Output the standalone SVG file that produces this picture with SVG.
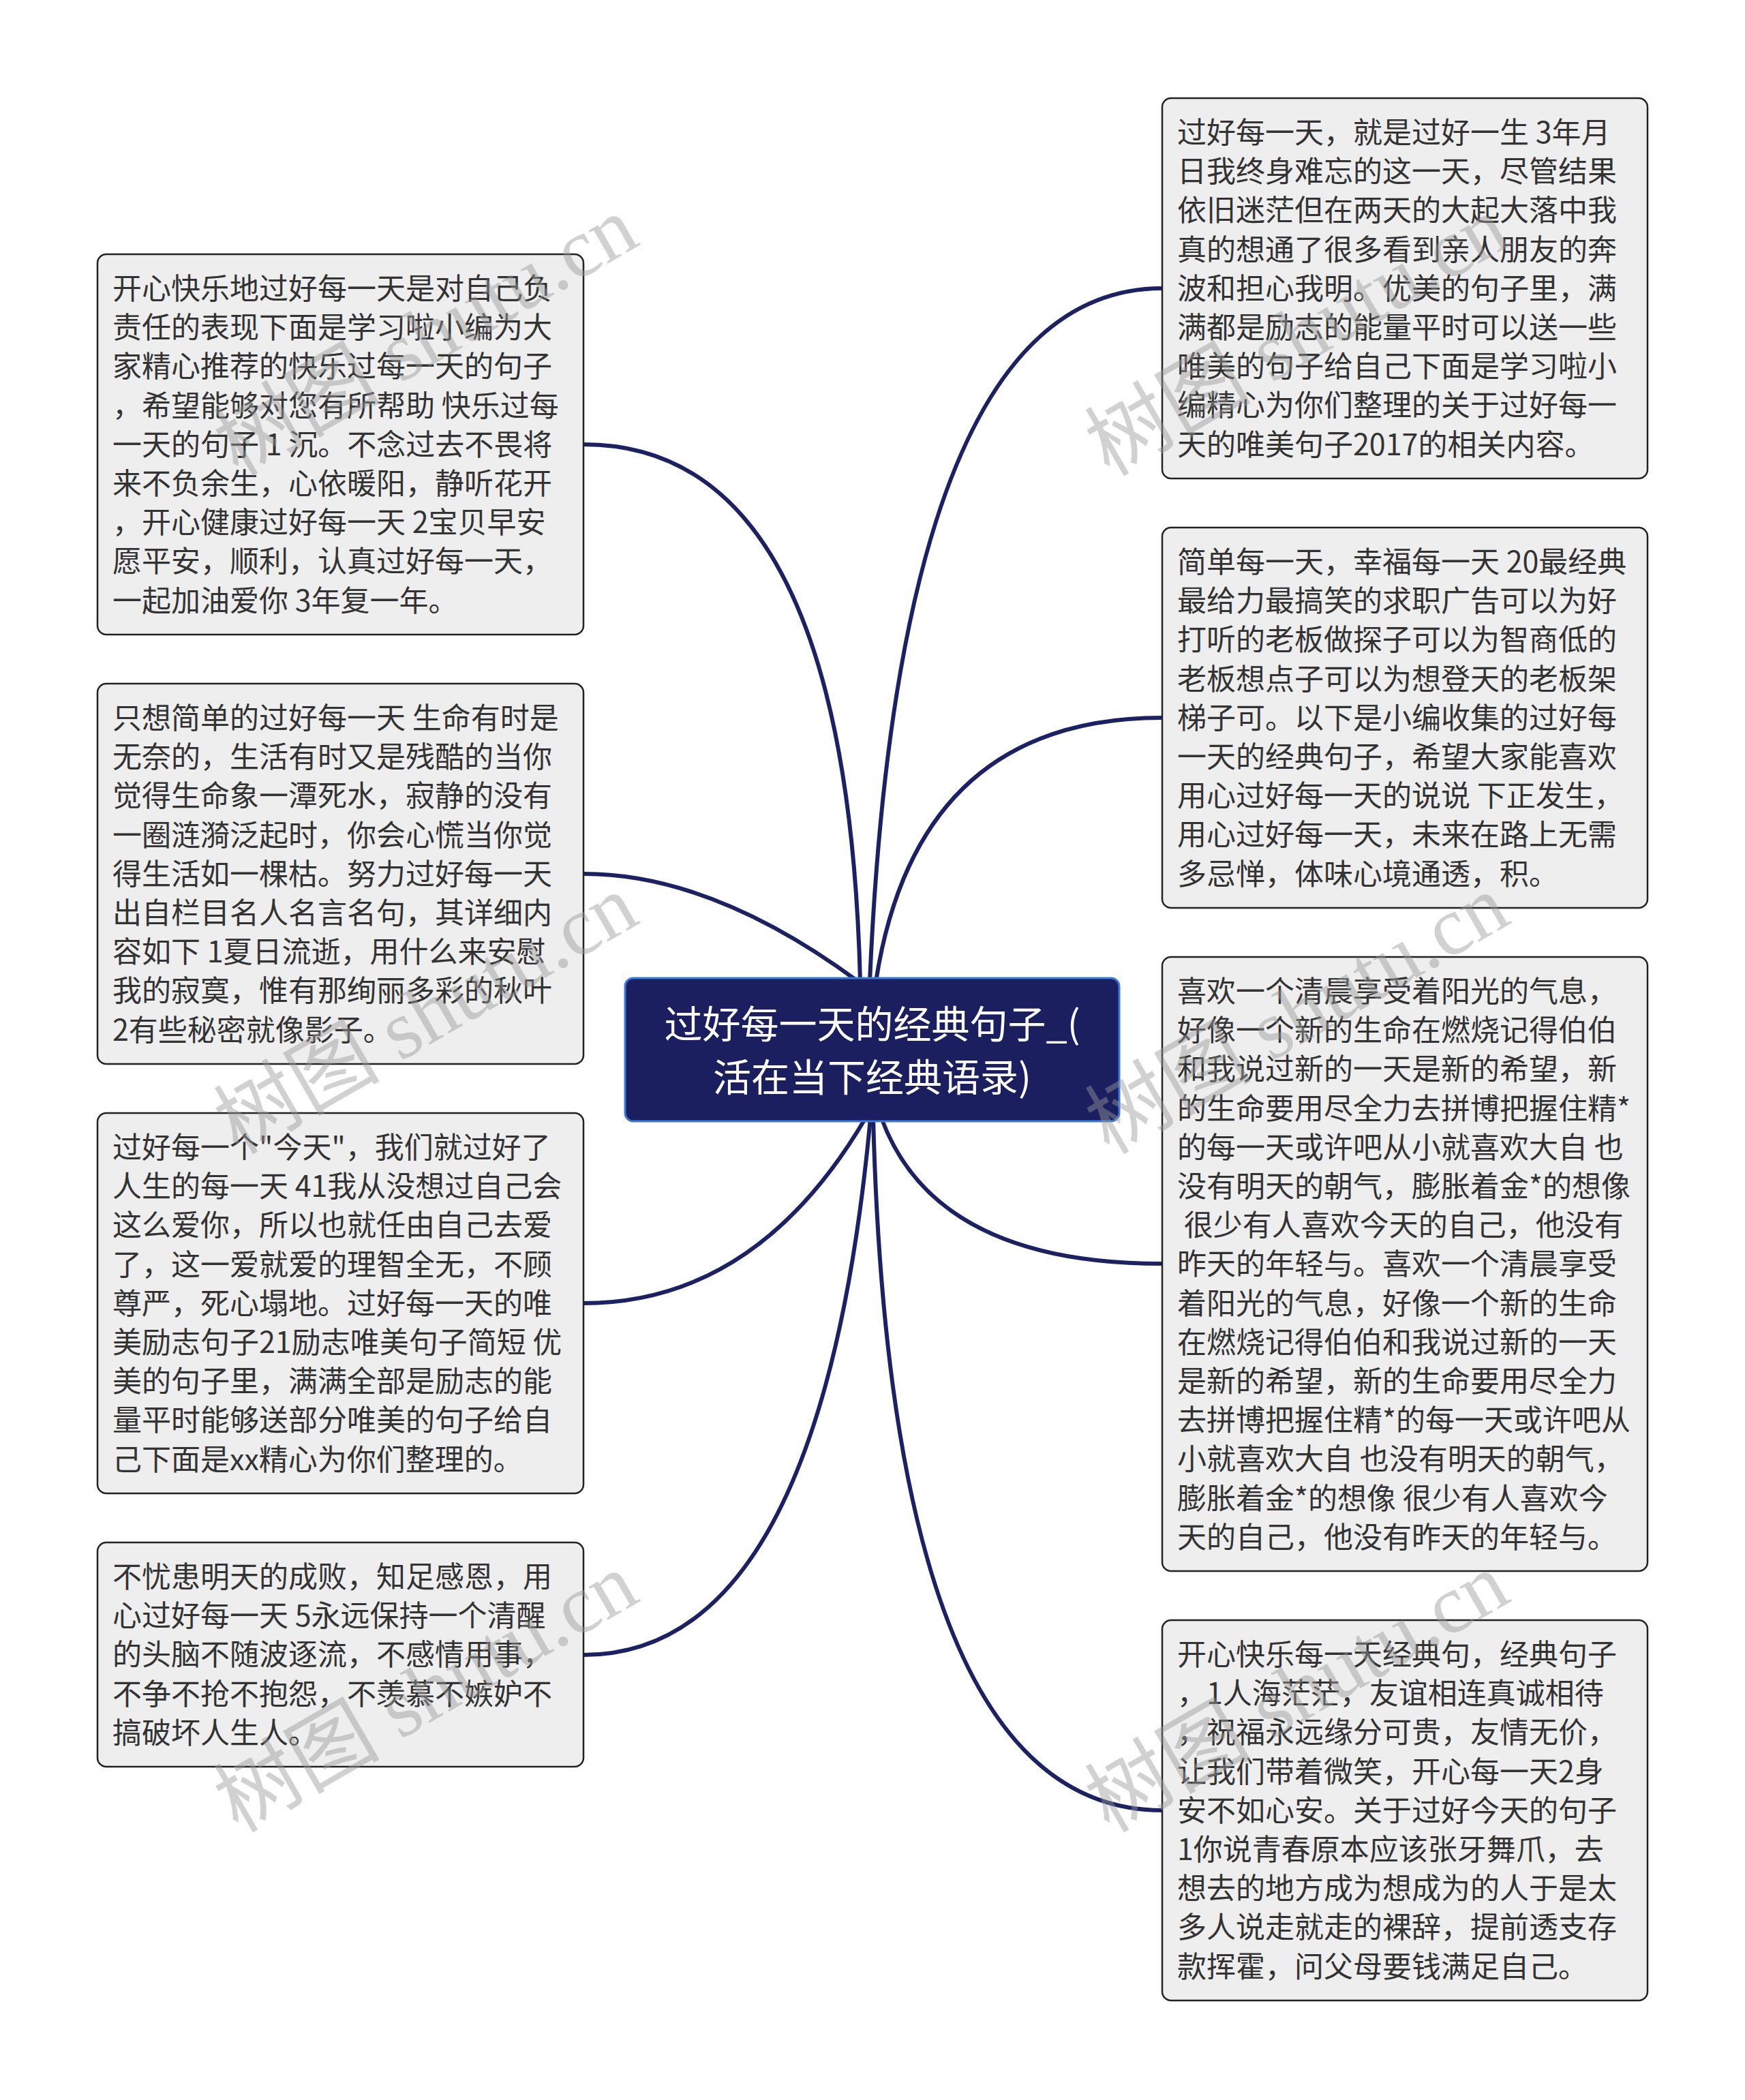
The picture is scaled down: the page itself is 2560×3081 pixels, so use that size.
<svg xmlns="http://www.w3.org/2000/svg" width="2560" height="3081" viewBox="0 0 2560 3081">
<style>
.bg{fill:#ffffff}
.box rect{fill:#eeeeee;stroke:#222222;stroke-width:2.5}
.box text{font-family:"Noto Sans CJK SC","Noto Sans",sans-serif;font-size:43px;fill:#333333}
.center rect{fill:#1b1f5f;stroke:#3b78d8;stroke-width:3}
.center text{font-family:"Noto Sans CJK SC","Noto Sans",sans-serif;font-size:56px;fill:#ffffff;text-anchor:middle}
.conn path{fill:none;stroke:#1b2163;stroke-width:6;stroke-linecap:round}
.wm{font-family:"Liberation Serif","Noto Sans CJK SC",serif;font-size:122px;fill:#9a9a9a;opacity:0.45}
</style>
<rect class="bg" x="0" y="0" width="2560" height="3081"/>
<g id="connectors" class="conn">
<path d="M1262,1440 Q1242,652 856,652"/>
<path d="M1259,1440 Q1045,1282 856,1282"/>
<path d="M1270,1640 Q1110,1912 856,1912"/>
<path d="M1277,1640 Q1204,2428 856,2428"/>
<path d="M1276,1440 Q1320,423 1705,423"/>
<path d="M1285,1440 Q1345,1053 1705,1053"/>
<path d="M1293,1640 Q1371,1854 1705,1854"/>
<path d="M1281,1640 Q1307,2656 1705,2656"/>
</g>
<g id="center" class="center">
<rect x="917" y="1435" width="725" height="210" rx="12"/>
<text x="1279.5" y="1523">过好每一天的经典句子_(</text>
<text x="1279.5" y="1601">活在当下经典语录)</text>
</g>
<g id="node-l1" class="box">
<rect x="143" y="373" width="713" height="558" rx="13"/>
<text x="165" y="439"><tspan x="165">开心快乐地过好每一天是对自己负</tspan><tspan x="165" dy="57.2">责任的表现下面是学习啦小编为大</tspan><tspan x="165" dy="57.2">家精心推荐的快乐过每一天的句子</tspan><tspan x="165" dy="57.2">，希望能够对您有所帮助 快乐过每</tspan><tspan x="165" dy="57.2">一天的句子 1 沉。不念过去不畏将</tspan><tspan x="165" dy="57.2">来不负余生，心依暖阳，静听花开</tspan><tspan x="165" dy="57.2">，开心健康过好每一天 2宝贝早安</tspan><tspan x="165" dy="57.2">愿平安，顺利，认真过好每一天，</tspan><tspan x="165" dy="57.2">一起加油爱你 3年复一年。</tspan></text>
</g>
<g id="node-l2" class="box">
<rect x="143" y="1003" width="713" height="558" rx="13"/>
<text x="165" y="1069"><tspan x="165">只想简单的过好每一天 生命有时是</tspan><tspan x="165" dy="57.2">无奈的，生活有时又是残酷的当你</tspan><tspan x="165" dy="57.2">觉得生命象一潭死水，寂静的没有</tspan><tspan x="165" dy="57.2">一圈涟漪泛起时，你会心慌当你觉</tspan><tspan x="165" dy="57.2">得生活如一棵枯。努力过好每一天</tspan><tspan x="165" dy="57.2">出自栏目名人名言名句，其详细内</tspan><tspan x="165" dy="57.2">容如下 1夏日流逝，用什么来安慰</tspan><tspan x="165" dy="57.2">我的寂寞，惟有那绚丽多彩的秋叶</tspan><tspan x="165" dy="57.2">2有些秘密就像影子。</tspan></text>
</g>
<g id="node-l3" class="box">
<rect x="143" y="1633" width="713" height="558" rx="13"/>
<text x="165" y="1699"><tspan x="165">过好每一个"今天"，我们就过好了</tspan><tspan x="165" dy="57.2">人生的每一天 41我从没想过自己会</tspan><tspan x="165" dy="57.2">这么爱你，所以也就任由自己去爱</tspan><tspan x="165" dy="57.2">了，这一爱就爱的理智全无，不顾</tspan><tspan x="165" dy="57.2">尊严，死心塌地。过好每一天的唯</tspan><tspan x="165" dy="57.2">美励志句子21励志唯美句子简短 优</tspan><tspan x="165" dy="57.2">美的句子里，满满全部是励志的能</tspan><tspan x="165" dy="57.2">量平时能够送部分唯美的句子给自</tspan><tspan x="165" dy="57.2">己下面是xx精心为你们整理的。</tspan></text>
</g>
<g id="node-l4" class="box">
<rect x="143" y="2263" width="713" height="329" rx="13"/>
<text x="165" y="2329"><tspan x="165">不忧患明天的成败，知足感恩，用</tspan><tspan x="165" dy="57.2">心过好每一天 5永远保持一个清醒</tspan><tspan x="165" dy="57.2">的头脑不随波逐流，不感情用事，</tspan><tspan x="165" dy="57.2">不争不抢不抱怨，不羡慕不嫉妒不</tspan><tspan x="165" dy="57.2">搞破坏人生人。</tspan></text>
</g>
<g id="node-r1" class="box">
<rect x="1705" y="144" width="712" height="558" rx="13"/>
<text x="1727" y="210"><tspan x="1727">过好每一天，就是过好一生 3年月</tspan><tspan x="1727" dy="57.2">日我终身难忘的这一天，尽管结果</tspan><tspan x="1727" dy="57.2">依旧迷茫但在两天的大起大落中我</tspan><tspan x="1727" dy="57.2">真的想通了很多看到亲人朋友的奔</tspan><tspan x="1727" dy="57.2">波和担心我明。优美的句子里，满</tspan><tspan x="1727" dy="57.2">满都是励志的能量平时可以送一些</tspan><tspan x="1727" dy="57.2">唯美的句子给自己下面是学习啦小</tspan><tspan x="1727" dy="57.2">编精心为你们整理的关于过好每一</tspan><tspan x="1727" dy="57.2">天的唯美句子2017的相关内容。</tspan></text>
</g>
<g id="node-r2" class="box">
<rect x="1705" y="774" width="712" height="558" rx="13"/>
<text x="1727" y="840"><tspan x="1727">简单每一天，幸福每一天 20最经典</tspan><tspan x="1727" dy="57.2">最给力最搞笑的求职广告可以为好</tspan><tspan x="1727" dy="57.2">打听的老板做探子可以为智商低的</tspan><tspan x="1727" dy="57.2">老板想点子可以为想登天的老板架</tspan><tspan x="1727" dy="57.2">梯子可。以下是小编收集的过好每</tspan><tspan x="1727" dy="57.2">一天的经典句子，希望大家能喜欢</tspan><tspan x="1727" dy="57.2">用心过好每一天的说说 下正发生，</tspan><tspan x="1727" dy="57.2">用心过好每一天，未来在路上无需</tspan><tspan x="1727" dy="57.2">多忌惮，体味心境通透，积。</tspan></text>
</g>
<g id="node-r3" class="box">
<rect x="1705" y="1404" width="712" height="901" rx="13"/>
<text x="1727" y="1470" xml:space="preserve"><tspan x="1727">喜欢一个清晨享受着阳光的气息，</tspan><tspan x="1727" dy="57.2">好像一个新的生命在燃烧记得伯伯</tspan><tspan x="1727" dy="57.2">和我说过新的一天是新的希望，新</tspan><tspan x="1727" dy="57.2">的生命要用尽全力去拼博把握住精*</tspan><tspan x="1727" dy="57.2">的每一天或许吧从小就喜欢大自 也</tspan><tspan x="1727" dy="57.2">没有明天的朝气，膨胀着金*的想像</tspan><tspan x="1727" dy="57.2"> 很少有人喜欢今天的自己，他没有</tspan><tspan x="1727" dy="57.2">昨天的年轻与。喜欢一个清晨享受</tspan><tspan x="1727" dy="57.2">着阳光的气息，好像一个新的生命</tspan><tspan x="1727" dy="57.2">在燃烧记得伯伯和我说过新的一天</tspan><tspan x="1727" dy="57.2">是新的希望，新的生命要用尽全力</tspan><tspan x="1727" dy="57.2">去拼博把握住精*的每一天或许吧从</tspan><tspan x="1727" dy="57.2">小就喜欢大自 也没有明天的朝气，</tspan><tspan x="1727" dy="57.2">膨胀着金*的想像 很少有人喜欢今</tspan><tspan x="1727" dy="57.2">天的自己，他没有昨天的年轻与。</tspan></text>
</g>
<g id="node-r4" class="box">
<rect x="1705" y="2377" width="712" height="558" rx="13"/>
<text x="1727" y="2443"><tspan x="1727">开心快乐每一天经典句，经典句子</tspan><tspan x="1727" dy="57.2">，1人海茫茫，友谊相连真诚相待</tspan><tspan x="1727" dy="57.2">，祝福永远缘分可贵，友情无价，</tspan><tspan x="1727" dy="57.2">让我们带着微笑，开心每一天2身</tspan><tspan x="1727" dy="57.2">安不如心安。关于过好今天的句子</tspan><tspan x="1727" dy="57.2">1你说青春原本应该张牙舞爪，去</tspan><tspan x="1727" dy="57.2">想去的地方成为想成为的人于是太</tspan><tspan x="1727" dy="57.2">多人说走就走的裸辞，提前透支存</tspan><tspan x="1727" dy="57.2">款挥霍，问父母要钱满足自己。</tspan></text>
</g>
<g id="watermarks">
<text class="wm" transform="translate(349,700) rotate(-30)">树图 shutu.cn</text>
<text class="wm" transform="translate(349,1695) rotate(-30)">树图 shutu.cn</text>
<text class="wm" transform="translate(349,2690) rotate(-30)">树图 shutu.cn</text>
<text class="wm" transform="translate(1627,700) rotate(-30)">树图 shutu.cn</text>
<text class="wm" transform="translate(1627,1695) rotate(-30)">树图 shutu.cn</text>
<text class="wm" transform="translate(1627,2690) rotate(-30)">树图 shutu.cn</text>
</g>
</svg>
